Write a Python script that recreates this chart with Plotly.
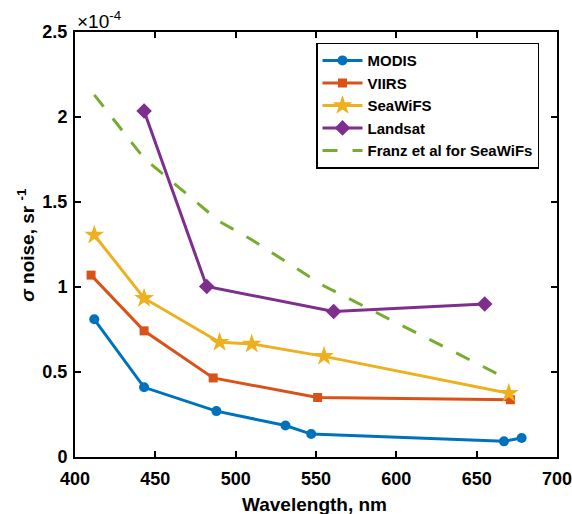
import plotly.graph_objects as go

# Values in units of 1e-4 sr^-1
modis_wl = [412, 443, 488, 531, 547, 667, 678]
modis = [0.81, 0.41, 0.27, 0.185, 0.135, 0.092, 0.112]
viirs_wl = [410, 443, 486, 551, 671]
viirs = [1.07, 0.742, 0.465, 0.35, 0.337]
seawifs_wl = [412, 443, 490, 510, 555, 670]
seawifs = [1.306, 0.934, 0.675, 0.665, 0.592, 0.375]
landsat_wl = [443, 482, 561, 655]
landsat = [2.035, 1.003, 0.856, 0.9]
franz_wl = [412, 443, 490, 510, 555, 670]
franz = [2.13, 1.757, 1.385, 1.278, 1.006, 0.455]

x_ticks = [400, 450, 500, 550, 600, 650, 700]
y_ticks = [0, 0.5, 1, 1.5, 2, 2.5]
y_ticktext = ["0", "0.5", "1", "1.5", "2", "2.5"]

FONT = "Liberation Sans, Arial, Helvetica, sans-serif"
LW = 3

fig = go.Figure()
fig.add_trace(go.Scatter(x=modis_wl, y=modis, name="MODIS", mode="lines+markers",
                         line=dict(color="#0072BD", width=LW),
                         marker=dict(symbol="circle", size=10, color="#0072BD")))
fig.add_trace(go.Scatter(x=viirs_wl, y=viirs, name="VIIRS", mode="lines+markers",
                         line=dict(color="#D95319", width=LW),
                         marker=dict(symbol="square", size=9, color="#D95319")))
fig.add_trace(go.Scatter(x=seawifs_wl, y=seawifs, name="SeaWiFS", mode="lines+markers",
                         line=dict(color="#EDB120", width=LW),
                         marker=dict(symbol="star", size=15, color="#EDB120")))
fig.add_trace(go.Scatter(x=landsat_wl, y=landsat, name="Landsat", mode="lines+markers",
                         line=dict(color="#7E2F8E", width=LW),
                         marker=dict(symbol="diamond", size=12, color="#7E2F8E")))
fig.add_trace(go.Scatter(x=franz_wl, y=franz, name="Franz et al for SeaWiFs", mode="lines",
                         line=dict(color="#77AC30", width=LW, dash="15px,15px")))

axis_common = dict(showgrid=False, zeroline=False, showline=True, linecolor="black",
                   linewidth=2, ticks="inside", ticklen=6, tickwidth=1.5, tickcolor="black",
                   mirror="ticks", automargin=False, ticklabeloverflow="allow",
                   tickfont=dict(family=FONT, size=18, color="black", weight="bold"))

fig.update_xaxes(range=[400, 700], tickvals=x_ticks, ticklabelstandoff=4, **axis_common)
fig.update_yaxes(range=[0, 2.5], tickvals=y_ticks, ticktext=y_ticktext,
                 ticklabelstandoff=2, **axis_common)

fig.update_layout(
    width=572, height=514,
    margin=dict(l=75, r=15, t=32, b=57, autoexpand=False),
    paper_bgcolor="white", plot_bgcolor="white",
    showlegend=True,
    legend=dict(x=0.50, y=0.975, xanchor="left", yanchor="top",
                bgcolor="white", bordercolor="black", borderwidth=1.5,
                font=dict(family=FONT, size=15, color="black", weight="bold"),
                tracegroupgap=0, itemwidth=40),
    annotations=[
        dict(text="<b>Wavelength, nm</b>", xref="paper", yref="paper",
             x=0.497, y=-0.082, xanchor="center", yanchor="top", showarrow=False,
             font=dict(family=FONT, size=19, color="black")),
        dict(text="<b><i>σ</i> noise, sr <sup>-1</sup></b>", xref="paper", yref="paper",
             x=-0.103, y=0.5, xanchor="center", yanchor="middle", textangle=-90,
             showarrow=False, font=dict(family=FONT, size=19, color="black")),
        dict(text="×10<sup>-4</sup>", xref="paper", yref="paper",
             x=0.0, y=0.995, xanchor="left", yanchor="bottom", showarrow=False,
             font=dict(family=FONT, size=19, color="black")),
    ],
)

fig.write_html("out.html")
